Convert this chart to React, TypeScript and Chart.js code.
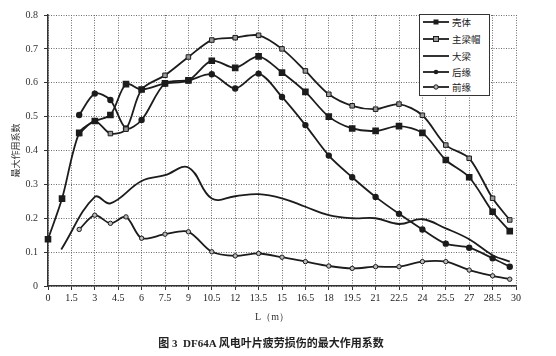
import React, { useEffect, useRef } from 'react';
import { Chart, registerables } from 'chart.js';
Chart.register(...registerables);

const xTicks = [0, 1.5, 3, 4.5, 6, 7.5, 9, 10.5, 12, 13.5, 15, 16.5, 18, 19.5, 21, 22.5, 24, 25.5, 27, 28.5, 30];
const yTicks = [0, 0.1, 0.2, 0.3, 0.4, 0.5, 0.6, 0.7, 0.8];

const seriesNames = ['壳体', '主梁帽', '大梁', '后缘', '前缘'];

const shellX = [0, 0.9, 2, 3, 4, 5, 6, 7.5, 9, 10.5, 12, 13.5, 15, 16.5, 18, 19.5, 21, 22.5, 24, 25.5, 27, 28.5, 29.6];
const shellY = [0.138, 0.258, 0.452, 0.487, 0.505, 0.596, 0.58, 0.598, 0.607, 0.665, 0.644, 0.678, 0.63, 0.573, 0.5, 0.465, 0.458, 0.472, 0.452, 0.372, 0.321, 0.219, 0.162];

const sparCapX = [2, 3, 4, 5, 6, 7.5, 9, 10.5, 12, 13.5, 15, 16.5, 18, 19.5, 21, 22.5, 24, 25.5, 27, 28.5, 29.6];
const sparCapY = [0.45, 0.487, 0.45, 0.463, 0.58, 0.622, 0.676, 0.726, 0.733, 0.74, 0.7, 0.635, 0.566, 0.532, 0.522, 0.537, 0.504, 0.416, 0.377, 0.259, 0.195];

const girderX = [0.85, 3, 4, 6, 7.5, 9, 10.5, 12, 13.5, 15, 16.5, 18, 19.5, 21, 22.5, 24, 25.5, 27, 28.5, 29.6];
const girderY = [0.108, 0.263, 0.244, 0.31, 0.327, 0.35, 0.258, 0.265, 0.271, 0.259, 0.234, 0.209, 0.2, 0.2, 0.183, 0.197, 0.17, 0.138, 0.091, 0.072];

const trailingX = [2, 3, 4, 5, 6, 7.5, 9, 10.5, 12, 13.5, 15, 16.5, 18, 19.5, 21, 22.5, 24, 25.5, 27, 28.5, 29.6];
const trailingY = [0.505, 0.568, 0.549, 0.465, 0.49, 0.598, 0.607, 0.625, 0.583, 0.627, 0.558, 0.475, 0.385, 0.321, 0.263, 0.213, 0.167, 0.125, 0.113, 0.082, 0.057];

const leadingX = [2, 3, 4, 5, 6, 7.5, 9, 10.5, 12, 13.5, 15, 16.5, 18, 19.5, 21, 22.5, 24, 25.5, 27, 28.5, 29.6];
const leadingY = [0.167, 0.209, 0.185, 0.204, 0.141, 0.153, 0.16, 0.101, 0.089, 0.096, 0.085, 0.072, 0.059, 0.052, 0.057, 0.057, 0.072, 0.072, 0.047, 0.03, 0.02];

const LINE = '#1c1c1c';
const pts = (xs: number[], ys: number[]) => xs.map((x, i) => ({ x, y: ys[i] }));

function LegendMarker({ idx }: { idx: number }) {
  let m: any = null;
  if (idx === 0) m = <rect x={10.5} y={3.5} width={5} height={5} fill={LINE} />;
  if (idx === 1) m = <rect x={10.5} y={3.5} width={5} height={5} fill="#999" stroke={LINE} strokeWidth={1} />;
  if (idx === 3) m = <circle cx={13} cy={6} r={2.3} fill={LINE} />;
  if (idx === 4) m = <circle cx={13} cy={6} r={2.2} fill="#bbb" stroke={LINE} strokeWidth={1} />;
  return (
    <svg width={26} height={12} style={{ display: 'block' }}>
      <line x1={0} y1={6} x2={26} y2={6} stroke={LINE} strokeWidth={1.8} />
      {m}
    </svg>
  );
}

export default function App() {
  const ref = useRef<HTMLCanvasElement | null>(null);
  useEffect(() => {
    if (!ref.current) return;
    const tickFont = { family: '"Liberation Serif", serif', size: 10 };
    const gridOpts: any = { color: '#6a6a6a', lineWidth: 1, tickColor: '#333', tickLength: 4, tickBorderDash: [] };
    const chart = new Chart(ref.current, {
      type: 'line',
      data: {
        datasets: [
          { label: seriesNames[0], data: pts(shellX, shellY), borderColor: LINE, backgroundColor: LINE, borderWidth: 1.8, pointStyle: 'rect', pointRadius: 3.4, pointBorderColor: LINE, pointBackgroundColor: LINE, tension: 0.3 },
          { label: seriesNames[1], data: pts(sparCapX, sparCapY), borderColor: LINE, backgroundColor: '#999', borderWidth: 1.8, pointStyle: 'rect', pointRadius: 3.2, pointBorderWidth: 1, pointBorderColor: LINE, pointBackgroundColor: '#999', tension: 0.3 },
          { label: seriesNames[2], data: pts(girderX, girderY), borderColor: LINE, borderWidth: 1.8, pointRadius: 0, tension: 0.4 },
          { label: seriesNames[3], data: pts(trailingX, trailingY), borderColor: LINE, backgroundColor: LINE, borderWidth: 1.8, pointStyle: 'circle', pointRadius: 2.3, pointBorderColor: LINE, pointBackgroundColor: LINE, tension: 0.3 },
          { label: seriesNames[4], data: pts(leadingX, leadingY), borderColor: LINE, backgroundColor: '#bbb', borderWidth: 1.8, pointStyle: 'circle', pointRadius: 2.2, pointBorderWidth: 1, pointBorderColor: LINE, pointBackgroundColor: '#bbb', tension: 0.3 },
        ] as any,
      },
      options: {
        animation: false,
        responsive: true,
        maintainAspectRatio: false,
        clip: false as any,
        layout: { padding: { left: 0, top: 15, right: 40, bottom: 50 } },
        plugins: { legend: { display: false }, tooltip: { enabled: false } },
        scales: {
          x: {
            type: 'linear',
            min: 0,
            max: 30,
            afterBuildTicks: (s: any) => { s.ticks = xTicks.map((v) => ({ value: v })); },
            afterFit: (s: any) => { s.height = 20; },
            ticks: { autoSkip: false, maxRotation: 0, font: tickFont, color: '#222', padding: 2, callback: (v: any) => String(v) },
            grid: gridOpts,
            border: { color: '#333', width: 1.5, dash: [1, 1.5] },
          },
          y: {
            min: 0,
            max: 0.8,
            afterBuildTicks: (s: any) => { s.ticks = yTicks.map((v) => ({ value: v })); },
            afterFit: (s: any) => { s.width = 48; },
            ticks: { font: tickFont, color: '#333', padding: 6, callback: (v: any) => (v === 0 ? '0' : Number(v).toFixed(1)) },
            title: { display: true, text: '最大作用系数', font: { family: '"Noto Sans CJK SC", sans-serif', size: 9 }, color: '#333', padding: { top: 10, bottom: 0 } },
            grid: gridOpts,
            border: { color: '#333', width: 1.5, dash: [1, 1.5] },
          },
        },
      } as any,
    });
    return () => chart.destroy();
  }, []);

  const legendCenters = [22.3, 39, 56, 71.7, 87.3];
  return (
    <div style={{ position: 'absolute', left: 0, top: 0, width: 556, height: 356, background: '#fff', overflow: 'hidden' }}>
      <canvas ref={ref} width={556} height={356} style={{ position: 'absolute', left: 0, top: 0 }} />
      <div style={{ position: 'absolute', left: 419, top: 14, width: 69, height: 80, border: '1px solid #333', background: '#fff' }} />
      {seriesNames.map((n, i) => (
        <div key={n} style={{ position: 'absolute', left: 423, top: legendCenters[i] - 8, height: 16, display: 'flex', alignItems: 'center' }}>
          <LegendMarker idx={i} />
          <span style={{ marginLeft: 3, font: '9.5px "Noto Sans CJK SC", sans-serif', color: '#222', lineHeight: '16px' }}>{n}</span>
        </div>
      ))}
      <div style={{ position: 'absolute', left: 0, width: 544, top: 310, textAlign: 'center', font: '10px "Liberation Serif", serif', color: '#333' }}>L（m）</div>
      <div style={{ position: 'absolute', left: 0, width: 542, top: 334, textAlign: 'center', font: 'bold 11px "Liberation Serif", "Noto Sans CJK SC", serif', color: '#222' }}>图 3&nbsp;&nbsp;DF64A 风电叶片疲劳损伤的最大作用系数</div>
    </div>
  );
}
